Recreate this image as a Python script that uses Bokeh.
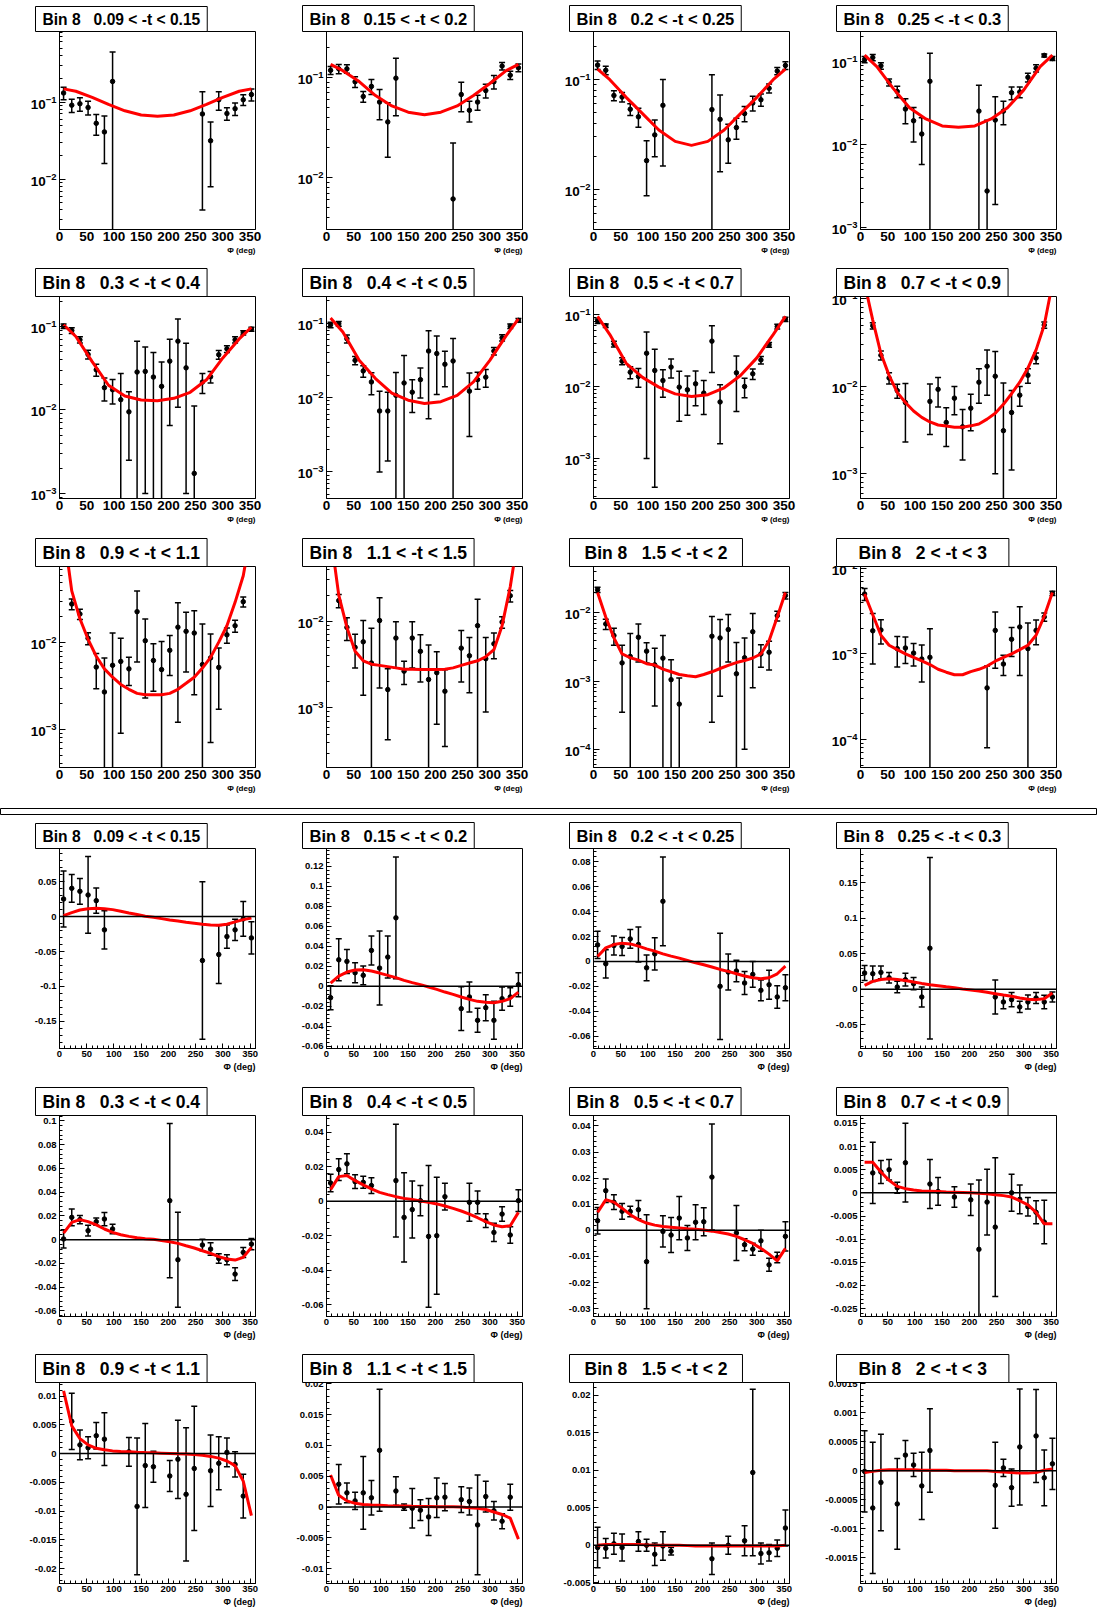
import math
from bokeh.plotting import figure
from bokeh.layouts import column, row
from bokeh.models import (Range1d, FixedTicker, SingleIntervalTicker, Title, Span, Spacer,
                          CustomJSTickFormatter, ColumnDataSource)
from bokeh.embed import file_html
from bokeh.resources import INLINE

FONT = "Liberation Sans"
N = None

# ---------------- data ----------------
BIN_LABEL = "Bin 8"
T_LABELS = ["0.09 < -t < 0.15", "0.15 < -t < 0.2", "0.2 < -t < 0.25", "0.25 < -t < 0.3",
            "0.3 < -t < 0.4", "0.4 < -t < 0.5", "0.5 < -t < 0.7", "0.7 < -t < 0.9",
            "0.9 < -t < 1.1", "1.1 < -t < 1.5", "1.5 < -t < 2", "2 < -t < 3"]

PHI = [7.5, 22.5, 37.5, 52.5, 67.5, 82.5, 97.5, 112.5, 127.5, 142.5, 157.5, 172.5,
       187.5, 202.5, 217.5, 232.5, 247.5, 262.5, 277.5, 292.5, 307.5, 322.5, 337.5, 352.5]
FIT30_PHI = [7.5, 30, 60, 90, 120, 150, 180, 210, 240, 270, 300, 330, 352.5]

# upper block (log scale)
CS_YLIM = [(0.00223, 0.82), (0.00303, 0.288), (0.00427, 0.276), (0.00095, 0.233),
           (0.00087, 0.229), (0.00044, 0.228), (0.000278, 0.178), (0.00052, 0.106),
           (0.00036, 0.0767), (0.000206, 0.0428), (0.000054, 0.048), (0.0000469, 0.0105)]

CS1_Y = [0.131, 0.091, 0.095, 0.085, 0.053, 0.041, 0.185, N, N, N, N, N, N, N, N, N, N, 0.070, 0.0315, 0.107, 0.071, 0.082, 0.107, 0.125]
CS1_E = [0.024, 0.018, 0.019, 0.017, 0.016, 0.025, 0.26, N, N, N, N, N, N, N, N, N, N, 0.066, 0.0235, 0.029, 0.013, 0.015, 0.017, 0.022]
CS2_Y = [0.118, 0.122, 0.122, 0.0906, 0.0646, 0.0815, 0.0568, 0.036, 0.0985, N, N, N, N, N, N, 0.00612, 0.0676, 0.047, 0.0568, 0.074, 0.0906, 0.130, 0.1055, 0.125]
CS2_E = [0.011, 0.013, 0.012, 0.011, 0.008, 0.014, 0.019, 0.020, 0.057, N, N, N, N, N, N, 0.016, 0.022, 0.011, 0.0097, 0.0115, 0.014, 0.011, 0.010, 0.011]
CS3_Y = [0.136, 0.122, 0.0718, 0.0694, 0.0537, 0.0458, 0.0182, 0.0313, 0.0583, N, N, N, N, N, 0.0533, 0.0434, 0.0282, 0.0365, 0.049, 0.0612, 0.0656, 0.0835, 0.12, 0.135]
CS3_E = [0.012, 0.011, 0.0075, 0.007, 0.0067, 0.009, 0.0095, 0.0115, 0.042, N, N, N, N, N, 0.058, 0.029, 0.011, 0.008, 0.0078, 0.0095, 0.0085, 0.008, 0.009, 0.011]
CS4_Y = [0.107, 0.113, 0.0897, 0.0569, 0.044, 0.027, 0.0195, 0.0135, 0.0584, N, N, N, N, N, 0.0255, 0.00277, 0.0199, 0.0255, 0.0425, 0.0434, 0.0652, 0.084, 0.12, 0.11]
CS4_E = [0.009, 0.01, 0.008, 0.0055, 0.007, 0.009, 0.0087, 0.0077, 0.069, N, N, N, N, N, 0.027, 0.017, 0.018, 0.008, 0.0075, 0.0065, 0.008, 0.0085, 0.005, 0.006]
CS5_Y = [0.101, 0.0896, 0.0693, 0.0463, 0.0303, 0.0185, 0.0175, 0.0133, 0.0095, 0.0285, 0.029, 0.0248, 0.0192, 0.0385, 0.0668, 0.032, 0.00174, 0.0216, 0.025, 0.046, 0.054, 0.0693, 0.084, 0.093]
CS5_E = [0.006, 0.007, 0.006, 0.0055, 0.005, 0.0057, 0.0057, 0.014, 0.007, 0.038, 0.028, 0.024, 0.0185, 0.032, 0.056, 0.031, 0.0094, 0.0058, 0.004, 0.0055, 0.005, 0.006, 0.005, 0.005]
CS6_Y = [0.095, 0.098, 0.0616, 0.0316, 0.0228, 0.0162, 0.0066, 0.0066, 0.0107, 0.0157, 0.0118, 0.0174, 0.0422, 0.039, 0.028, 0.031, N, 0.0122, 0.0174, 0.0188, 0.0422, 0.0636, 0.091, 0.109]
CS6_E = [0.008, 0.007, 0.0075, 0.004, 0.004, 0.0053, 0.0056, 0.0052, 0.011, 0.021, 0.0055, 0.0075, 0.037, 0.028, 0.014, 0.031, N, 0.0092, 0.0045, 0.005, 0.005, 0.006, 0.006, 0.006]
CS7_Y = [0.081, 0.070, 0.039, 0.0225, 0.0158, 0.0138, 0.029, 0.0167, 0.0121, 0.0186, 0.0098, 0.009, 0.0109, 0.0081, 0.0427, 0.0061, N, 0.0155, 0.010, 0.015, 0.0234, 0.038, 0.068, 0.086]
CS7_E = [0.006, 0.004, 0.0035, 0.0025, 0.003, 0.004, 0.028, 0.0163, 0.005, 0.0055, 0.0065, 0.005, 0.0055, 0.004, 0.027, 0.0045, N, 0.011, 0.003, 0.0025, 0.0028, 0.003, 0.005, 0.006]
CS8_Y = [N, 0.0492, 0.0226, 0.0124, 0.0089, 0.0065, N, N, 0.0067, 0.0092, 0.00385, 0.0073, 0.00343, 0.0056, 0.0111, 0.0169, 0.013, 0.0031, 0.005, 0.0079, 0.0133, 0.021, 0.05, N]
CS8_E = [N, 0.004, 0.0027, 0.0018, 0.0016, 0.0042, N, N, 0.0039, 0.0034, 0.0018, 0.0026, 0.002, 0.0025, 0.0047, 0.009, 0.012, 0.0078, 0.0039, 0.002, 0.0025, 0.003, 0.004, N]
CS9_Y = [N, 0.0282, 0.0216, 0.0113, 0.00524, 0.0027, 0.0055, 0.0061, 0.005, 0.023, 0.0106, 0.00625, 0.0049, 0.0082, 0.0152, 0.0136, 0.013, 0.0056, 0.0067, 0.0052, 0.0124, 0.0158, 0.030, N]
CS9_E = [N, 0.004, 0.003, 0.0018, 0.0023, 0.004, 0.0075, 0.0052, 0.0018, 0.017, 0.0083, 0.0035, 0.0055, 0.004, 0.014, 0.009, 0.0105, 0.011, 0.006, 0.0035, 0.0025, 0.0025, 0.004, N]
CS10_Y = [N, 0.0173, 0.0085, 0.005, 0.0058, 0.0033, 0.0102, 0.00163, 0.0064, 0.00266, 0.0064, 0.0045, 0.00213, 0.00255, 0.00156, N, 0.0049, 0.004, 0.0089, 0.0037, 0.0055, 0.0098, 0.0197, N]
CS10_E = [N, 0.003, 0.0025, 0.0021, 0.0044, 0.005, 0.0085, 0.0012, 0.0035, 0.0008, 0.0035, 0.0025, 0.0032, 0.0019, 0.0012, N, 0.0029, 0.0025, 0.009, 0.0028, 0.0018, 0.0015, 0.003, N]
CS11_Y = [0.0219, 0.0069, 0.00466, 0.00185, 0.0023, 0.0044, 0.00275, 0.00173, 0.00217, 0.00105, 0.00046, N, N, N, 0.00455, 0.0043, 0.0057, 0.00128, 0.0022, 0.0053, 0.0025, 0.00265, 0.0091, 0.018]
CS11_E = [0.002, 0.0012, 0.0013, 0.0015, 0.0027, 0.0025, 0.0009, 0.0013, 0.0025, 0.001, 0.00065, N, N, N, 0.0043, 0.0037, 0.0038, 0.0024, 0.0021, 0.0045, 0.0009, 0.0012, 0.0015, 0.002]
CS12_Y = [0.005, 0.00186, 0.0019, N, 0.00115, 0.00117, 0.00102, 0.00087, 0.00091, N, N, N, N, N, N, 0.0004, 0.00188, 0.00076, 0.00148, 0.00206, 0.00115, 0.00188, 0.0027, 0.0051]
CS12_E = [0.0008, 0.0011, 0.0006, N, 0.00045, 0.0004, 0.0003, 0.0004, 0.00105, N, N, N, N, N, N, 0.00032, 0.0012, 0.0002, 0.00055, 0.0015, 0.00115, 0.0006, 0.0003, 0.0003]

# fitted curves (upper block): panels 1-7 read at FIT30_PHI, 8-12 at PHI
CS1_FIT = [0.148, 0.138, 0.115, 0.093, 0.077, 0.068, 0.0656, 0.068, 0.077, 0.093, 0.115, 0.138, 0.148]
CS2_FIT = [0.135, 0.117, 0.091, 0.066, 0.052, 0.045, 0.0425, 0.045, 0.052, 0.066, 0.087, 0.117, 0.135]
CS3_FIT = [0.125, 0.1, 0.069, 0.049, 0.0347, 0.0273, 0.0251, 0.0273, 0.0347, 0.049, 0.069, 0.1, 0.125]
CS4_FIT = [0.121, 0.088, 0.048, 0.028, 0.0205, 0.0169, 0.0163, 0.0169, 0.0205, 0.028, 0.046, 0.088, 0.121]
CS5_FIT = [0.105, 0.076, 0.038, 0.0198, 0.0147, 0.0132, 0.0129, 0.0138, 0.0163, 0.023, 0.042, 0.071, 0.098]
CS6_FIT = [0.117, 0.076, 0.0316, 0.018, 0.0115, 0.0092, 0.0083, 0.0088, 0.0107, 0.0162, 0.0316, 0.068, 0.114]
CS7_FIT = [0.094, 0.0527, 0.021, 0.0134, 0.0098, 0.0079, 0.00726, 0.0077, 0.0096, 0.0142, 0.025, 0.0527, 0.094]
CS8_FIT = [0.15, 0.057, 0.0236, 0.0133, 0.0085, 0.0065, 0.0052, 0.0044, 0.0039, 0.0036, 0.0035, 0.0034, 0.0034, 0.00352, 0.0037, 0.0042, 0.0049, 0.0062, 0.0082, 0.0111, 0.0161, 0.026, 0.05, 0.15]
CS9_FIT = [0.2, 0.04, 0.019, 0.011, 0.007, 0.005, 0.004, 0.0033, 0.0029, 0.0026, 0.0025, 0.0025, 0.0025, 0.0026, 0.0029, 0.0034, 0.004, 0.0051, 0.0068, 0.0102, 0.0158, 0.0295, 0.06, 0.2]
CS10_FIT = [0.1, 0.02, 0.0085, 0.0045, 0.0035, 0.0032, 0.0031, 0.003, 0.0029, 0.0028, 0.0028, 0.00278, 0.00277, 0.00277, 0.0028, 0.0029, 0.0031, 0.0033, 0.0035, 0.0039, 0.0047, 0.0089, 0.025, 0.1]
CS11_FIT = [0.02, 0.0087, 0.0043, 0.0025, 0.0022, 0.00203, 0.0018, 0.00172, 0.0015, 0.00137, 0.00125, 0.0012, 0.00116, 0.00125, 0.00137, 0.00153, 0.0017, 0.00187, 0.002, 0.00218, 0.0025, 0.0039, 0.0087, 0.02]
CS12_FIT = [0.005, 0.00287, 0.00165, 0.00126, 0.00112, 0.001, 0.00091, 0.00083, 0.00075, 0.00066, 0.00061, 0.00057, 0.00057, 0.00062, 0.00066, 0.00072, 0.00082, 0.00091, 0.001, 0.00112, 0.00126, 0.00165, 0.00275, 0.0052]

# lower block (linear scale)
AS_YLIM = [(-0.189, 0.0976), (-0.0622, 0.138), (-0.0699, 0.0907), (-0.0834, 0.1986),
           (-0.0647, 0.1046), (-0.0667, 0.0497), (-0.033, 0.044), (-0.0267, 0.0167),
           (-0.0226, 0.01235), (-0.0124, 0.0202), (-0.0051, 0.0217), (-0.00194, 0.00152)]
AS_STEP = [0.05, 0.02, 0.02, 0.05, 0.02, 0.02, 0.01, 0.005, 0.005, 0.005, 0.005, 0.0005]
ZERO_LEVEL = 0.0

AS1_Y = [0.0252, 0.0405, 0.0362, 0.031, 0.0229, -0.019, N, N, N, N, N, N, N, N, N, N, N, -0.0629, N, -0.0543, -0.0286, -0.019, -0.0033, -0.0305]
AS1_E = [0.040, 0.020, 0.0185, 0.055, 0.018, 0.0275, N, N, N, N, N, N, N, N, N, N, N, 0.113, N, 0.0417, 0.0167, 0.0152, 0.025, 0.023]
AS2_Y = [-0.0113, 0.0266, 0.025, 0.0136, 0.011, 0.036, 0.0183, 0.0293, 0.0686, N, N, N, N, N, N, N, -0.0223, -0.0106, -0.034, -0.0213, -0.034, -0.0123, -0.0106, 0.0017]
AS2_E = [0.012, 0.021, 0.012, 0.01, 0.0093, 0.0145, 0.037, 0.021, 0.061, N, N, N, N, N, N, N, 0.022, 0.015, 0.012, 0.013, 0.019, 0.0117, 0.0093, 0.012]
AS3_Y = [0.0133, -0.0019, 0.0128, 0.012, 0.0181, 0.0136, -0.0051, 0.0061, 0.0483, N, N, N, N, N, N, -0.02, -0.0085, -0.0077, -0.0173, -0.0104, -0.0232, -0.0187, -0.0285, -0.0211]
AS3_E = [0.011, 0.0113, 0.0076, 0.0073, 0.0075, 0.014, 0.0103, 0.013, 0.0356, N, N, N, N, N, N, 0.0427, 0.0144, 0.0087, 0.0093, 0.0103, 0.0084, 0.0116, 0.009, 0.0104]
AS4_Y = [0.023, 0.022, 0.0239, 0.0164, 0.0033, 0.0136, 0.008, -0.0108, 0.058, N, N, N, N, N, N, N, -0.0108, -0.0178, -0.0145, -0.0248, -0.0178, -0.0122, -0.0178, -0.0108]
AS4_E = [0.0105, 0.011, 0.009, 0.0075, 0.008, 0.009, 0.0087, 0.014, 0.128, N, N, N, N, N, N, N, 0.024, 0.0094, 0.01, 0.008, 0.01, 0.0077, 0.0094, 0.007]
AS5_Y = [0.0006, 0.0188, 0.0169, 0.0076, 0.0152, 0.0174, 0.009, N, N, N, N, N, N, 0.0329, -0.0169, N, N, -0.0045, -0.0079, -0.0158, -0.0169, -0.029, -0.0107, -0.0037]
AS5_E = [0.0077, 0.007, 0.0035, 0.0045, 0.003, 0.0056, 0.004, N, N, N, N, N, N, 0.065, 0.04, N, N, 0.0049, 0.0053, 0.004, 0.0042, 0.0053, 0.0042, 0.0048]
AS6_Y = [0.0106, 0.0184, 0.0217, 0.0114, 0.011, 0.0091, N, N, 0.012, -0.0093, -0.0048, 0.0004, -0.0203, -0.0199, 0.0027, N, N, -0.0006, -0.0006, -0.0112, -0.018, -0.0074, -0.0195, 0.0004]
AS6_E = [0.0051, 0.0063, 0.0058, 0.004, 0.0035, 0.0045, N, N, 0.0326, 0.0258, 0.0165, 0.0087, 0.041, 0.0339, 0.0077, N, N, 0.011, 0.0066, 0.004, 0.0053, 0.0042, 0.0048, 0.0063]
AS7_Y = [0.0037, 0.0152, 0.0108, 0.0073, 0.0072, 0.0079, -0.012, N, -0.0004, -0.0018, 0.0047, -0.0029, 0.0031, 0.0033, 0.0204, N, N, -0.001, -0.0055, -0.0072, -0.004, -0.0132, -0.0104, -0.0023]
AS7_E = [0.0051, 0.0045, 0.0028, 0.003, 0.002, 0.0035, 0.018, N, 0.006, 0.0067, 0.0083, 0.0048, 0.0067, 0.0054, 0.0203, N, N, 0.0105, 0.0023, 0.0023, 0.004, 0.0025, 0.002, 0.0056]
AS8_Y = [N, 0.0043, 0.0045, 0.005, 0.0011, 0.0065, N, N, 0.0019, 0.0003, N, -0.0009, N, -0.0015, -0.0122, -0.002, -0.0074, N, 0.0, -0.0014, -0.003, -0.0042, -0.0063, N]
AS8_E = [N, 0.0066, 0.0025, 0.0022, 0.0012, 0.0085, N, N, 0.0053, 0.003, N, 0.0022, N, 0.0034, 0.015, 0.0071, 0.015, N, 0.004, 0.0031, 0.002, 0.0025, 0.0047, N]
AS9_Y = [N, 0.0056, 0.0015, 0.001, 0.0031, 0.0025, N, N, 0.0003, -0.0092, -0.0021, -0.0023, N, -0.0039, -0.001, -0.0071, -0.0026, N, -0.003, -0.0017, 0.0002, -0.0019, -0.0074, N]
AS9_E = [N, 0.0049, 0.0026, 0.0019, 0.0023, 0.0046, N, N, 0.0025, 0.0119, 0.0073, 0.0027, N, 0.0027, 0.0068, 0.0116, 0.0108, N, 0.0062, 0.0046, 0.0025, 0.0022, 0.0038, N]
AS10_Y = [N, 0.0037, 0.0023, 0.001, 0.0023, 0.0015, 0.0092, N, 0.0026, 0.0, -0.0002, -0.0005, -0.0016, 0.0015, 0.0016, N, 0.0012, 0.0009, -0.0029, 0.0017, -0.0006, -0.0023, 0.0016, N]
AS10_E = [N, 0.0032, 0.0016, 0.0014, 0.0059, 0.0028, 0.0099, N, 0.0023, 0.0005, 0.0032, 0.0017, 0.003, 0.0032, 0.0022, N, 0.0021, 0.0022, 0.0081, 0.0025, 0.0015, 0.0012, 0.0021, N]
AS11_Y = [-0.0003, -0.0004, 0.0002, -0.0003, N, 0.0005, 0.0, -0.0012, -0.0001, -0.0008, N, N, N, N, -0.0018, N, 0.0, N, 0.0006, 0.0097, -0.0011, -0.001, -0.0004, 0.0023]
AS11_E = [0.0027, 0.0013, 0.0014, 0.0018, N, 0.0013, 0.0008, 0.0015, 0.0019, 0.0005, N, N, N, N, 0.0021, N, 0.0012, N, 0.002, 0.0111, 0.0014, 0.0011, 0.0011, 0.0024]
AS12_Y = [-0.00001, -0.00064, -0.0002, N, -0.00057, 0.00027, 0.0001, -0.00026, 0.00035, N, N, N, N, N, N, N, -0.00025, 0.00005, -0.00029, 0.00041, N, 0.0006, -0.00012, 0.00012]
AS12_E = [0.0007, 0.00113, 0.00083, N, 0.00078, 0.00025, 0.0002, 0.00058, 0.00072, N, N, N, N, N, N, N, 0.00074, 0.00015, 0.00032, 0.001, N, 0.0008, 0.00048, 0.00044]

AS1_FIT = [0.0014, 0.0057, 0.0095, 0.0114, 0.0119, 0.0114, 0.01, 0.0076, 0.0052, 0.0029, 0.0005, -0.001, -0.0029, -0.0048, -0.0062, -0.0081, -0.0095, -0.011, -0.0119, -0.0124, -0.011, -0.0076, -0.0043, -0.0019]
AS2_FIT = [0.0033, 0.0103, 0.0143, 0.0163, 0.0166, 0.0153, 0.0133, 0.011, 0.0087, 0.006, 0.0037, 0.0017, -0.0007, -0.003, -0.0057, -0.008, -0.0106, -0.013, -0.015, -0.016, -0.0163, -0.015, -0.0123, -0.0057]
AS3_FIT = [0.004, 0.0109, 0.0136, 0.0147, 0.0141, 0.0123, 0.0101, 0.0083, 0.0061, 0.0043, 0.0027, 0.0008, -0.0011, -0.0027, -0.0045, -0.0064, -0.008, -0.0099, -0.0117, -0.0131, -0.0139, -0.0131, -0.0099, -0.0037]
AS4_FIT = [0.0056, 0.0112, 0.014, 0.015, 0.014, 0.0126, 0.0103, 0.0084, 0.0066, 0.0052, 0.0037, 0.0023, 0.0005, -0.0009, -0.0023, -0.0042, -0.0061, -0.008, -0.0098, -0.0122, -0.0141, -0.0145, -0.0131, -0.0052]
AS5_FIT = [0.0056, 0.0146, 0.0169, 0.0152, 0.0124, 0.009, 0.0062, 0.0042, 0.0028, 0.0017, 0.0008, 0.0003, -0.0006, -0.0017, -0.0031, -0.0051, -0.007, -0.0093, -0.0115, -0.0143, -0.0163, -0.0172, -0.0149, -0.0065]
AS6_FIT = [0.0068, 0.0143, 0.0149, 0.012, 0.0095, 0.0072, 0.0052, 0.0039, 0.0027, 0.0017, 0.001, 0.0002, -0.0006, -0.0015, -0.0027, -0.0041, -0.0056, -0.0074, -0.0095, -0.0118, -0.0137, -0.0147, -0.0141, -0.0064]
AS7_FIT = [0.0069, 0.0117, 0.0108, 0.0085, 0.006, 0.0041, 0.0028, 0.002, 0.0015, 0.0012, 0.0009, 0.0006, 0.0004, 0.0001, -0.0003, -0.0008, -0.0014, -0.0023, -0.0036, -0.005, -0.0069, -0.0091, -0.0117, -0.0069]
AS8_FIT = [0.0066, 0.0066, 0.0045, 0.0027, 0.0014, 0.0009, 0.0006, 0.0004, 0.00036, 0.0003, 0.0002, 0.00014, 0.00007, 0.0, -0.0001, -0.0002, -0.0004, -0.0006, -0.0009, -0.0017, -0.0026, -0.0042, -0.0067, -0.0067]
AS9_FIT = [0.0109, 0.0048, 0.0026, 0.0015, 0.0009, 0.00064, 0.00046, 0.00035, 0.0003, 0.00023, 0.00017, 0.00012, 0.00006, 0.0, -0.00006, -0.0001, -0.00017, -0.0003, -0.0005, -0.0008, -0.0013, -0.0021, -0.0048, -0.0108]
AS10_FIT = [0.0052, 0.0019, 0.001, 0.0006, 0.0004, 0.00033, 0.00028, 0.00022, 0.00018, 0.00015, 0.00012, 0.0001, 0.00008, 0.00006, 0.00005, 0.00003, 0.0, -0.0001, -0.0002, -0.0004, -0.0008, -0.0012, -0.0018, -0.0052]
AS11_FIT = [0.0, 0.0001, 0.0001, 0.0001, 0.0001, 0.0001, 0.00005, 0.0, 0.0, 0.0, 0.0, -0.00005, -0.0001, -0.0001, -0.0001, -0.0001, -0.0001, -0.0001, -0.0001, -0.0001, -0.0001, -0.0001, -0.0001, 0.0]
AS12_FIT = [-0.00003, -0.00001, 0.00001, 0.00002, 0.00002, 0.00002, 0.00002, 0.00001, 0.00001, 0.00001, 0.00001, 0.0, 0.0, 0.0, 0.0, 0.0, -0.00001, -0.00002, -0.00003, -0.00004, -0.00004, -0.00003, 0.00001, 0.00003]

CS_Y = [CS1_Y, CS2_Y, CS3_Y, CS4_Y, CS5_Y, CS6_Y, CS7_Y, CS8_Y, CS9_Y, CS10_Y, CS11_Y, CS12_Y]
CS_E = [CS1_E, CS2_E, CS3_E, CS4_E, CS5_E, CS6_E, CS7_E, CS8_E, CS9_E, CS10_E, CS11_E, CS12_E]
CS_FIT = [CS1_FIT, CS2_FIT, CS3_FIT, CS4_FIT, CS5_FIT, CS6_FIT, CS7_FIT, CS8_FIT, CS9_FIT, CS10_FIT, CS11_FIT, CS12_FIT]
AS_Y = [AS1_Y, AS2_Y, AS3_Y, AS4_Y, AS5_Y, AS6_Y, AS7_Y, AS8_Y, AS9_Y, AS10_Y, AS11_Y, AS12_Y]
AS_E = [AS1_E, AS2_E, AS3_E, AS4_E, AS5_E, AS6_E, AS7_E, AS8_E, AS9_E, AS10_E, AS11_E, AS12_E]
AS_FIT = [AS1_FIT, AS2_FIT, AS3_FIT, AS4_FIT, AS5_FIT, AS6_FIT, AS7_FIT, AS8_FIT, AS9_FIT, AS10_FIT, AS11_FIT, AS12_FIT]

# ---------------- styling / layout ----------------
COL_W = 267
LEFT_PAD = 8
TOP_B = 31
# (figure height, top border, bottom border)
TOP_ROWS = [(265, TOP_B, 36), (270, TOP_B, 37), (271, TOP_B, 39)]
BOT_ROWS = [(267, TOP_B, 36), (267, TOP_B, 35), (256, TOP_B, 24)]
SEP_DIMS = (11, 1, 4)
EM = {'B': 0.722, 'i': 0.278, 'n': 0.611, ' ': 0.278, '\u00a0': 0.278, '.': 0.278,
      '<': 0.584, '-': 0.333, 't': 0.333}


def title_box(label):
    txt = BIN_LABEL + "\u00a0\u00a0\u00a0" + label
    em = sum(EM.get(c, 0.556) for c in txt)
    fs = min(17.5, 158.0 / em)
    pad_h = max(3, int(round((172.0 - em * fs) / 2.0)))
    pad_v = max(2, int(round((22.5 - 0.87 * fs) / 2.0)))
    return Title(text=txt, align="left", offset=-24, standoff=0,
                 text_font=FONT, text_font_size=f"{fs:.1f}px", text_font_style="bold",
                 text_color="black", background_fill_color="white",
                 border_line_color="black", border_line_width=1,
                 padding=dict(left=pad_h, right=pad_h, top=pad_v, bottom=pad_v))


def make_panel(label, ys, es, fit_phi, fit_vals, ylim, log, dims, step=None):
    height, top, bottom = dims
    p = figure(width=COL_W, height=height, x_range=Range1d(0, 360), y_range=Range1d(*ylim),
               y_axis_type="log" if log else "linear", toolbar_location=None,
               output_backend="svg", min_border_left=51, min_border_right=20,
               min_border_top=top, min_border_bottom=bottom, title=title_box(label))
    p.grid.visible = False
    p.outline_line_color = "black"
    p.outline_line_width = 1
    p.background_fill_color = "white"
    p.border_fill_color = "white"

    xa, ya = p.xaxis[0], p.yaxis[0]
    for ax in (xa, ya):
        ax.axis_line_color = "black"
        ax.major_tick_out = 0
        ax.minor_tick_out = 0
        ax.major_tick_line_color = "black"
        ax.minor_tick_line_color = "black"
        ax.major_label_text_font = FONT
        ax.major_label_text_font_style = "bold"
        ax.major_label_text_color = "black"
    xa.major_label_standoff = 2
    ya.major_label_standoff = 3

    lo, hi = ylim
    if log:
        xa.ticker = SingleIntervalTicker(interval=50, num_minor_ticks=0)
        xa.major_tick_in = 0
        xa.major_label_text_font_size = "13.5px"
        k0, k1 = math.floor(math.log10(lo)), math.ceil(math.log10(hi))
        majors = [10.0 ** k for k in range(k0, k1 + 1) if lo * 0.999 <= 10.0 ** k <= hi * 1.001]
        minors = [m * 10.0 ** k for k in range(k0, k1 + 1) for m in range(2, 10)
                  if lo <= m * 10.0 ** k <= hi]
        ya.ticker = FixedTicker(ticks=majors, minor_ticks=minors)
        ya.major_tick_in = 6
        ya.minor_tick_in = 3
        ya.major_label_text_font_size = "13.5px"
        xlab_size = "8px"
    else:
        xa.ticker = SingleIntervalTicker(interval=50, num_minor_ticks=5)
        xa.major_tick_in = 5
        xa.minor_tick_in = 3
        xa.major_label_text_font_size = "9.5px"
        ya.ticker = SingleIntervalTicker(interval=step, num_minor_ticks=5)
        ya.formatter = CustomJSTickFormatter(code="""
            if (Math.abs(tick) < 1e-12) { return "0"; }
            return String(parseFloat(tick.toPrecision(6)));
        """)
        ya.major_tick_in = 5
        ya.minor_tick_in = 3
        ya.major_label_text_font_size = "9.5px"
        xlab_size = "9px"
        p.add_layout(Span(location=ZERO_LEVEL, dimension="width", line_color="black", line_width=1.5))

    p.add_layout(Title(text="\u03a6 (deg)", align="right", standoff=0, offset=0,
                       text_font=FONT, text_font_size=xlab_size, text_font_style="bold",
                       text_color="black"), "below")

    xs, yv, y0, y1 = [], [], [], []
    for ph, v, e in zip(PHI, ys, es):
        if v is None:
            continue
        low = v - e
        if log and low <= lo:
            low = lo * 0.5
        xs.append(ph)
        yv.append(v)
        y0.append(low)
        y1.append(v + e)
    src = ColumnDataSource(dict(x=xs, y=yv, y0=y0, y1=y1))
    p.segment(x0="x", y0="y0", x1="x", y1="y1", source=src, line_color="black", line_width=1.5)
    p.scatter(x="x", y="y0", source=src, marker="dash", size=6, line_color="black", line_width=1.5)
    p.scatter(x="x", y="y1", source=src, marker="dash", size=6, line_color="black", line_width=1.5)
    p.scatter(x="x", y="y", source=src, marker="circle", size=4.5, fill_color="black", line_color="black")
    p.line(x=fit_phi, y=fit_vals, line_color="#ff0000", line_width=3)
    return p


def panel_row(figs, h):
    return row(Spacer(width=LEFT_PAD, height=h), *figs)


top_figs = []
for i in range(12):
    fphi = FIT30_PHI if i < 7 else PHI
    top_figs.append(make_panel(T_LABELS[i], CS_Y[i], CS_E[i], fphi, CS_FIT[i], CS_YLIM[i], True, TOP_ROWS[i // 4]))

bot_figs = []
for i in range(12):
    bot_figs.append(make_panel(T_LABELS[i], AS_Y[i], AS_E[i], PHI, AS_FIT[i], AS_YLIM[i], False, BOT_ROWS[i // 4], AS_STEP[i]))

sep = figure(width=1097, height=SEP_DIMS[0], min_border_top=SEP_DIMS[1], min_border_bottom=SEP_DIMS[2],
             min_border_left=0, min_border_right=0, x_axis_type=None, y_axis_type=None,
             toolbar_location=None, output_backend="svg")
sep.outline_line_color = "black"
sep.outline_line_width = 1
sep.grid.visible = False

layout = column(
    panel_row(top_figs[0:4], TOP_ROWS[0][0]),
    panel_row(top_figs[4:8], TOP_ROWS[1][0]),
    panel_row(top_figs[8:12], TOP_ROWS[2][0]),
    sep,
    panel_row(bot_figs[0:4], BOT_ROWS[0][0]),
    panel_row(bot_figs[4:8], BOT_ROWS[1][0]),
    panel_row(bot_figs[8:12], BOT_ROWS[2][0]),
)

open("out.html", "w").write(file_html(layout, INLINE, title="Bin 8"))
